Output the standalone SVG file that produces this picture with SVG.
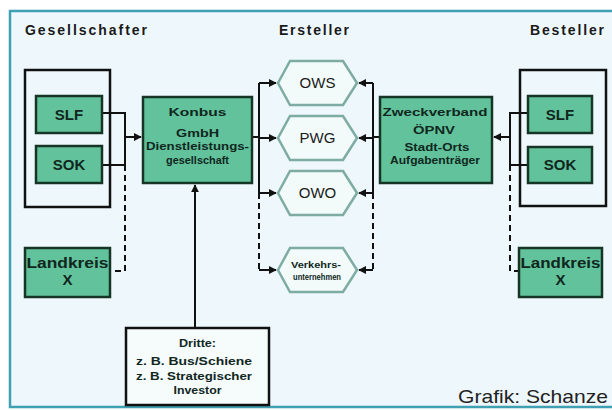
<svg xmlns="http://www.w3.org/2000/svg" width="612" height="410" viewBox="0 0 612 410">
<defs>
<style>
.bg{fill:#eef8fc}
.frame{fill:none;stroke:#3f9fb3;stroke-width:2.5}
.group{fill:none;stroke:#111;stroke-width:2.5}
.green{fill:#62c29c;stroke:#173526;stroke-width:2.5}
.white{fill:#f6fbfc;stroke:#111;stroke-width:2.5}
.hex{fill:#f2fbf9;stroke:#7eaca2;stroke-width:2.5}
.head{font-family:"Liberation Sans",Arial,sans-serif;font-weight:bold;font-size:14px;fill:#1a1a1a}
.lbl{font-family:"Liberation Sans",Arial,sans-serif;font-weight:bold;font-size:15px;fill:#10271d;text-anchor:middle}
.small{font-family:"Liberation Sans",Arial,sans-serif;font-weight:bold;font-size:10.5px;fill:#10271d;text-anchor:middle}
.hl{font-family:"Liberation Sans",Arial,sans-serif;font-size:15px;fill:#1a1a1a;text-anchor:middle}
.line{fill:none;stroke:#111;stroke-width:2}
.dash{fill:none;stroke:#111;stroke-width:2;stroke-dasharray:6 4}
</style>
<marker id="ah" viewBox="0 0 10 10" refX="9" refY="5" markerWidth="4" markerHeight="4" orient="auto-start-reverse">
<path d="M0,0 L10,5 L0,10 z" fill="#111"/>
</marker>
</defs>
<rect x="0" y="0" width="612" height="410" fill="#ffffff"/>
<rect class="bg" x="10" y="11" width="604" height="396"/>
<rect class="frame" x="10" y="11" width="604" height="396"/>

<g id="headings">
<text class="head" x="25" y="35" textLength="122" lengthAdjust="spacing">Gesellschafter</text>
<text class="head" x="279" y="35" textLength="70" lengthAdjust="spacing">Ersteller</text>
<text class="head" x="530" y="35" textLength="74" lengthAdjust="spacing">Besteller</text>
</g>

<g id="connectors">
<path class="line" d="M102,113 H125 V165 H102"/>
<path class="line" d="M125,137 H141" marker-end="url(#ah)"/>
<path class="dash" d="M125,165 V271 H110"/>
<path class="line" d="M195,328 V185" marker-end="url(#ah)"/>
<path class="line" d="M252,137 H259"/>
<path class="line" d="M259,193 V83"/>
<path class="dash" d="M259,193 V270"/>
<path class="line" d="M259,83 H276" marker-end="url(#ah)"/>
<path class="line" d="M259,138 H276" marker-end="url(#ah)"/>
<path class="line" d="M259,193 H276" marker-end="url(#ah)"/>
<path class="line" d="M259,270 H276" marker-end="url(#ah)"/>
<path class="line" d="M380,137 H373"/>
<path class="line" d="M373,193 V83"/>
<path class="dash" d="M373,193 V270"/>
<path class="line" d="M373,83 H359" marker-end="url(#ah)"/>
<path class="line" d="M373,138 H359" marker-end="url(#ah)"/>
<path class="line" d="M373,193 H359" marker-end="url(#ah)"/>
<path class="line" d="M373,270 H359" marker-end="url(#ah)"/>
<path class="line" d="M528,113 H510 V165 H528"/>
<path class="line" d="M510,137 H494" marker-end="url(#ah)"/>
<path class="dash" d="M510,165 V271 H519"/>
</g>

<g id="gesellschafter-group">
<rect class="group" x="25" y="70" width="85" height="137"/>
</g>
<g id="slf-left">
<rect class="green" x="36" y="96" width="66" height="37"/>
<text class="lbl" x="69" y="120">SLF</text>
</g>
<g id="sok-left">
<rect class="green" x="36" y="146" width="66" height="37"/>
<text class="lbl" x="69" y="170">SOK</text>
</g>
<g id="landkreis-left">
<rect class="green" x="25" y="248" width="85" height="49"/>
<text class="lbl" x="67.5" y="268" textLength="82" lengthAdjust="spacingAndGlyphs">Landkreis</text>
<text class="lbl" x="67.5" y="285">X</text>
</g>

<g id="konbus">
<rect class="green" x="143" y="97" width="109" height="86"/>
<text class="small" x="197.5" y="116" textLength="58" lengthAdjust="spacingAndGlyphs">Konbus</text>
<text class="small" x="197.5" y="137" textLength="43" lengthAdjust="spacingAndGlyphs">GmbH</text>
<text class="small" x="197.5" y="150" textLength="103" lengthAdjust="spacingAndGlyphs">Dienstleistungs-</text>
<text class="small" x="197.5" y="164" textLength="63" lengthAdjust="spacingAndGlyphs">gesellschaft</text>
</g>

<g id="dritte">
<rect class="white" x="126" y="328" width="143" height="77"/>
<text class="small" x="197.5" y="347" textLength="37" lengthAdjust="spacingAndGlyphs">Dritte:</text>
<text class="small" x="194" y="365" textLength="116" lengthAdjust="spacingAndGlyphs">z. B. Bus/Schiene</text>
<text class="small" x="194" y="380" textLength="116" lengthAdjust="spacingAndGlyphs">z. B. Strategischer</text>
<text class="small" x="197.5" y="394" textLength="48" lengthAdjust="spacingAndGlyphs">Investor</text>
</g>

<g id="ows">
<polygon class="hex" points="278,83 290,61 343,61 357,83 343,105 290,105"/>
<text class="hl" x="317.5" y="88">OWS</text>
</g>
<g id="pwg">
<polygon class="hex" points="278,138 290,116 343,116 357,138 343,160 290,160"/>
<text class="hl" x="317.5" y="143">PWG</text>
</g>
<g id="owo">
<polygon class="hex" points="278,193 290,171 343,171 357,193 343,215 290,215"/>
<text class="hl" x="317.5" y="198">OWO</text>
</g>
<g id="verkehrsunternehmen">
<polygon class="hex" points="278,270 290,248 343,248 357,270 343,292 290,292"/>
<text class="small" x="316" y="268" style="font-size:9px" textLength="50" lengthAdjust="spacingAndGlyphs">Verkehrs-</text>
<text class="small" x="317" y="280" style="font-size:9px" textLength="48" lengthAdjust="spacingAndGlyphs">unternehmen</text>
</g>

<g id="zweckverband">
<rect class="green" x="380" y="97" width="112" height="86"/>
<text class="small" x="435" y="116" textLength="105" lengthAdjust="spacingAndGlyphs">Zweckverband</text>
<text class="small" x="434" y="134" textLength="42" lengthAdjust="spacingAndGlyphs">ÖPNV</text>
<text class="small" x="437" y="151" textLength="65" lengthAdjust="spacingAndGlyphs">Stadt-Orts</text>
<text class="small" x="435" y="164" textLength="90" lengthAdjust="spacingAndGlyphs">Aufgabenträger</text>
</g>

<g id="besteller-group">
<rect class="group" x="520" y="70" width="86" height="136"/>
</g>
<g id="slf-right">
<rect class="green" x="528" y="96" width="64" height="37"/>
<text class="lbl" x="560" y="120">SLF</text>
</g>
<g id="sok-right">
<rect class="green" x="528" y="147" width="64" height="36"/>
<text class="lbl" x="560" y="170">SOK</text>
</g>
<g id="landkreis-right">
<rect class="green" x="519" y="248" width="83" height="49"/>
<text class="lbl" x="560.5" y="268" textLength="80" lengthAdjust="spacingAndGlyphs">Landkreis</text>
<text class="lbl" x="560.5" y="285">X</text>
</g>

<text x="458" y="403" font-family="'Liberation Sans',Arial,sans-serif" font-size="19" fill="#222" textLength="150" lengthAdjust="spacingAndGlyphs">Grafik: Schanze</text>
</svg>
